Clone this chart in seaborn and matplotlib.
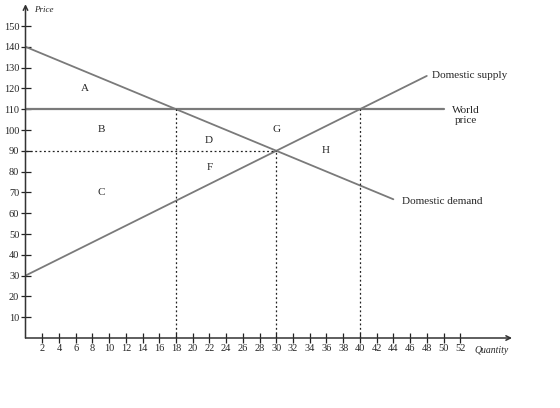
import matplotlib
matplotlib.use("Agg")
import matplotlib.pyplot as plt
import seaborn as sns
import pandas as pd

# ---- data ----
demand_q = [0, 44]
demand_p = [140, 66.7]
supply_q = [0, 48]
supply_p = [30, 126]
world_q = [0, 50]
world_p = [110, 110]
world_price = 110
no_trade_price = 90
q_domestic_supply = 18
q_equilibrium = 30
q_domestic_demand = 40
area_labels = ["A", "B", "C", "D", "F", "G", "H"]
area_x = [7.1, 9.1, 9.1, 21.9, 22.0, 30.0, 35.9]
area_y = [120, 100, 70, 95, 82, 100, 90]
x_ticks = list(range(2, 54, 2))
y_ticks = list(range(10, 160, 10))

sns.set_style("white")
plt.rcParams['font.family'] = ['Liberation Serif', 'DejaVu Serif']

fig = plt.figure(figsize=(5.6, 4.08), dpi=100)
ax = fig.add_axes([25.5 / 560, 70 / 408, 58 * 8.36 / 560, 160 * 2.08 / 408])

line_col = "#7a7a7a"
df_d = pd.DataFrame({"q": demand_q, "p": demand_p})
df_s = pd.DataFrame({"q": supply_q, "p": supply_p})
df_w = pd.DataFrame({"q": world_q, "p": world_p})
sns.lineplot(data=df_d, x="q", y="p", ax=ax, color=line_col, lw=1.3)
sns.lineplot(data=df_s, x="q", y="p", ax=ax, color=line_col, lw=1.3)
sns.lineplot(data=df_w, x="q", y="p", ax=ax, color=line_col, lw=1.6)

dot = dict(color="#222222", lw=0.9, ls=(0, (1.5, 2)))
ax.plot([0, q_equilibrium], [no_trade_price, no_trade_price], **dot)
ax.plot([q_domestic_supply, q_domestic_supply], [0, world_price], **dot)
ax.plot([q_equilibrium, q_equilibrium], [0, no_trade_price], **dot)
ax.plot([q_domestic_demand, q_domestic_demand], [0, world_price], **dot)

for lab, x, y in zip(area_labels, area_x, area_y):
    ax.text(x, y, lab, fontsize=8, ha="center", va="center")

ax.text(48.6, 126, "Domestic supply", fontsize=8, ha="left", va="center")
ax.text(52.7, 107.0, "World\nprice", fontsize=8, ha="center", va="center", linespacing=1.05)
ax.text(45.0, 65.8, "Domestic demand", fontsize=8, ha="left", va="center")

ax.set_xlim(0, 58)
ax.set_ylim(0, 160)
for s in ax.spines.values():
    s.set_visible(False)
arrow = dict(arrowstyle="->", lw=1.1, color="#333333", shrinkA=0, shrinkB=0, mutation_scale=8)
ax.annotate("", xy=(58.2, 0), xytext=(0, 0), arrowprops=arrow, annotation_clip=False)
ax.annotate("", xy=(0, 160.5), xytext=(0, 0), arrowprops=arrow, annotation_clip=False)
ax.set_xticks(x_ticks)
ax.set_yticks(y_ticks)
ax.tick_params(bottom=True, left=True, direction="inout", length=7, width=0.9,
               labelsize=7.5, color="#222222", pad=1)
ax.set_xlabel("")
ax.set_ylabel("")
ax.text(55.8, -6.2, "Quantity", fontsize=7, style="italic", ha="center", va="center",
        clip_on=False)
ax.text(1.0, 157.5, "Price", fontsize=6.5, style="italic", ha="left", va="center",
        clip_on=False)
ax.patch.set_alpha(0)

fig.savefig("out.png", dpi=100)
